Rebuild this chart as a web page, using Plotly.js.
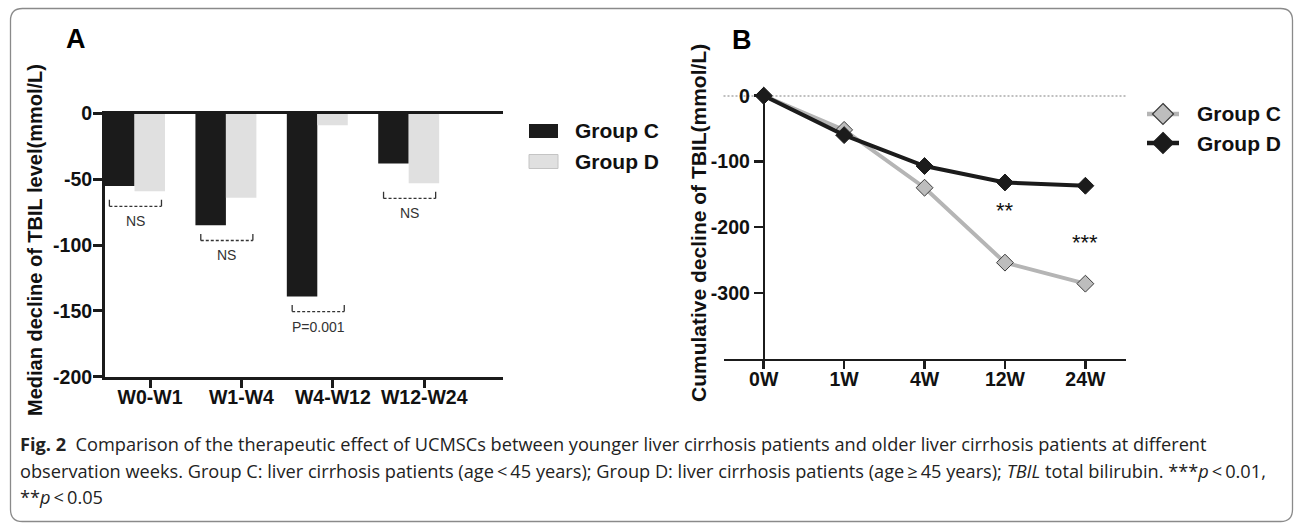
<!DOCTYPE html>
<html>
<head>
<meta charset="utf-8">
<script src="https://cdn.plot.ly/plotly-3.0.1.min.js"></script>
<style>
  html, body { margin: 0; padding: 0; background: #fff; }
  #chart { width: 1295px; height: 525px; }
</style>
</head>
<body>
<div id="chart"></div>
<script>
// ---------------- DATA ----------------
// Panel A: median decline of TBIL per interval
var intervals = ["W0-W1", "W1-W4", "W4-W12", "W12-W24"];
var medianC = [-55, -85, -139, -38];
var medianD = [-59, -64, -9, -53];
var sigLabelsA = ["NS", "NS", "P=0.001", "NS"];

// Panel B: cumulative decline of TBIL
var weeks = ["0W", "1W", "4W", "12W", "24W"];
var cumC = [0, -52, -140, -254, -286];
var cumD = [0, -60, -107, -132, -137];

var seriesNames = ["Group C", "Group D"];
var yTicksA = [0, -50, -100, -150, -200];
var yTicksB = [0, -100, -200, -300];

// ---------------- LAYOUT HELPERS ----------------
var W = 1295, H = 525;
function px(x) { return x / W; }
function py(y) { return 1 - y / H; }

var FONT = "Liberation Sans, Arial, sans-serif";
var CAP = "Open Sans, Noto Sans, sans-serif";
var DARK = "#1b1b1b";
var LIGHT = "#e0e0e0";
var GRAYLINE = "#b5b5b5";
var GRAYMARK = "#bdbdbd";

var idxA = intervals.map(function (_, i) { return i; });

var traces = [
  { type: "bar", name: seriesNames[0], x: idxA, y: medianC, xaxis: "x", yaxis: "y",
    marker: { color: DARK, line: { width: 0 } }, showlegend: false, hoverinfo: "x+y" },
  { type: "bar", name: seriesNames[1], x: idxA, y: medianD, xaxis: "x", yaxis: "y",
    marker: { color: LIGHT, line: { width: 0 } }, showlegend: false, hoverinfo: "x+y" },
  { type: "scatter", mode: "lines+markers", name: seriesNames[0], x: weeks, y: cumC,
    xaxis: "x2", yaxis: "y2", cliponaxis: false, showlegend: false,
    line: { color: GRAYLINE, width: 4 },
    marker: { symbol: "diamond", size: 13, color: GRAYMARK, line: { color: "#3a3a3a", width: 1 } } },
  { type: "scatter", mode: "lines+markers", name: seriesNames[1], x: weeks, y: cumD,
    xaxis: "x2", yaxis: "y2", cliponaxis: false, showlegend: false,
    line: { color: DARK, width: 4 },
    marker: { symbol: "diamond", size: 13, color: DARK, line: { color: DARK, width: 1 } } }
];

var shapes = [];
var annotations = [];

// Outer rounded border
(function () {
  var x0 = 10.5, y0 = 8.5, x1 = 1292.5, y1 = 521.5, r = 12;
  function P(x, y) { return px(x) + "," + py(y); }
  var path = "M" + P(x0 + r, y0) + " L" + P(x1 - r, y0) + " Q" + P(x1, y0) + " " + P(x1, y0 + r) +
    " L" + P(x1, y1 - r) + " Q" + P(x1, y1) + " " + P(x1 - r, y1) +
    " L" + P(x0 + r, y1) + " Q" + P(x0, y1) + " " + P(x0, y1 - r) +
    " L" + P(x0, y0 + r) + " Q" + P(x0, y0) + " " + P(x0 + r, y0) + " Z";
  shapes.push({ type: "path", xref: "paper", yref: "paper", path: path,
    line: { color: "#8a8a8a", width: 1.3 }, fillcolor: "rgba(0,0,0,0)", layer: "below" });
})();

// Significance brackets in panel A (derived from data)
intervals.forEach(function (_, i) {
  var lo = Math.min(medianC[i], medianD[i]);
  var yt = lo - 6.5, yb = lo - 11.5;
  var xa = i - 0.275, xb = i + 0.295;
  shapes.push({ type: "line", xref: "x", yref: "y", x0: xa, x1: xb, y0: yb, y1: yb,
    line: { color: "#333", width: 1.3, dash: "3px,2px" } });
  shapes.push({ type: "line", xref: "x", yref: "y", x0: xa, x1: xa, y0: yb, y1: yt,
    line: { color: "#333", width: 1.3 } });
  shapes.push({ type: "line", xref: "x", yref: "y", x0: xb, x1: xb, y0: yb, y1: yt,
    line: { color: "#333", width: 1.3 } });
  annotations.push({ xref: "x", yref: "y", x: (xa + xb) / 2, y: yb, yanchor: "top", yshift: -5,
    showarrow: false, text: sigLabelsA[i], font: { family: FONT, size: 14, color: "#333" } });
});

// Dotted zero line in panel B
shapes.push({ type: "line", xref: "x2 domain", yref: "y2", x0: 0, x1: 1, y0: 0, y1: 0,
  line: { color: "#000", width: 1.2, dash: "2px,2px" }, layer: "below" });

// Custom legend for panel A
shapes.push({ type: "rect", xref: "paper", yref: "paper",
  x0: px(529), x1: px(558), y0: py(124), y1: py(138), fillcolor: DARK, line: { width: 0 } });
shapes.push({ type: "rect", xref: "paper", yref: "paper",
  x0: px(529), x1: px(558), y0: py(154.5), y1: py(168.5), fillcolor: LIGHT, line: { color: "#c4c4c4", width: 1 } });
annotations.push({ xref: "paper", yref: "paper", x: px(573), y: py(131), xanchor: "left", yanchor: "middle",
  showarrow: false, text: seriesNames[0], font: { family: FONT, size: 21, weight: "bold", color: "#111" } });
annotations.push({ xref: "paper", yref: "paper", x: px(573), y: py(161.5), xanchor: "left", yanchor: "middle",
  showarrow: false, text: seriesNames[1], font: { family: FONT, size: 21, weight: "bold", color: "#111" } });

// Custom legend for panel B (line + diamond symbols)
function diamondPath(cx, cy, r) {
  return "M" + px(cx) + "," + py(cy - r) + " L" + px(cx + r) + "," + py(cy) +
    " L" + px(cx) + "," + py(cy + r) + " L" + px(cx - r) + "," + py(cy) + " Z";
}
[[114, GRAYLINE, GRAYMARK, "#3a3a3a"], [143, DARK, DARK, DARK]].forEach(function (it, k) {
  var yy = it[0];
  shapes.push({ type: "line", xref: "paper", yref: "paper", x0: px(1147), x1: px(1179), y0: py(yy), y1: py(yy),
    line: { color: it[1], width: 4.5 } });
  shapes.push({ type: "path", xref: "paper", yref: "paper", path: diamondPath(1163, yy, 10.5),
    fillcolor: it[2], line: { color: it[3], width: 1.2 } });
  annotations.push({ xref: "paper", yref: "paper", x: px(1195), y: py(yy), xanchor: "left", yanchor: "middle",
    showarrow: false, text: seriesNames[k], font: { family: FONT, size: 21, weight: "bold", color: "#111" } });
});

// Panel letters
annotations.push({ xref: "paper", yref: "paper", x: px(76), y: py(39), xanchor: "center", yanchor: "middle",
  showarrow: false, text: "A", font: { family: FONT, size: 27, weight: "bold", color: "#000" } });
annotations.push({ xref: "paper", yref: "paper", x: px(742), y: py(40), xanchor: "center", yanchor: "middle",
  showarrow: false, text: "B", font: { family: FONT, size: 27, weight: "bold", color: "#000" } });

// Y-axis titles
annotations.push({ xref: "paper", yref: "paper", x: px(35), y: py(240), xanchor: "center", yanchor: "middle",
  textangle: -90, showarrow: false, text: "Median decline of TBIL level(mmol/L)",
  font: { family: FONT, size: 20, weight: "bold", color: "#111" } });
annotations.push({ xref: "paper", yref: "paper", x: px(698), y: py(223), xanchor: "center", yanchor: "middle",
  textangle: -90, showarrow: false, text: "Cumulative decline of TBIL(mmol/L)",
  font: { family: FONT, size: 21, weight: "bold", color: "#111" } });

// Significance stars panel B
annotations.push({ xref: "x2", yref: "y2", x: "12W", y: -175, showarrow: false, text: "**",
  font: { family: FONT, size: 22, color: "#111" } });
annotations.push({ xref: "x2", yref: "y2", x: "24W", y: -224, showarrow: false, text: "***",
  font: { family: FONT, size: 22, color: "#111" } });

// Caption
var capLines = [
  "<b>Fig. 2</b>  Comparison of the therapeutic effect of UCMSCs between younger liver cirrhosis patients and older liver cirrhosis patients at different",
  "observation weeks. Group C: liver cirrhosis patients (age\u2009<\u200945 years); Group D: liver cirrhosis patients (age\u2009\u2265\u200945 years); <i>TBIL</i> total bilirubin. ***<i>p</i>\u2009<\u20090.01,",
  "**<i>p</i>\u2009<\u20090.05"
];
var capY = [444, 471, 497];
capLines.forEach(function (t, i) {
  annotations.push({ xref: "paper", yref: "paper", x: px(18), y: py(capY[i]), xanchor: "left", yanchor: "middle",
    showarrow: false, text: t, font: { family: CAP, size: 18.2, color: "#222" } });
});

function axisBase() {
  return {
    showgrid: false, zeroline: false, showline: true, linecolor: DARK,
    ticks: "outside", tickcolor: DARK, fixedrange: true,
    tickfont: { family: FONT, size: 19.5, weight: "bold", color: "#111" }
  };
}

var layout = {
  width: W, height: H,
  margin: { l: 0, r: 0, t: 0, b: 0 },
  paper_bgcolor: "#fff", plot_bgcolor: "rgba(0,0,0,0)",
  barmode: "group", bargap: 0.333, bargroupgap: 0,
  showlegend: false,
  xaxis: Object.assign(axisBase(), {
    domain: [px(105), px(503)], range: [-0.323, 4.032], anchor: "y",
    tickvals: idxA.map(function (i) { return i + 0.17; }), ticktext: intervals,
    ticklen: 8, tickwidth: 3, linewidth: 3, mirror: true, ticklabelstandoff: -7
  }),
  yaxis: Object.assign(axisBase(), {
    domain: [py(376.7), py(113.5)], range: [-200, 0], anchor: "x",
    tickvals: yTicksA, ticktext: yTicksA.map(String),
    ticklen: 9, tickwidth: 3, linewidth: 3, ticklabelstandoff: -3
  }),
  xaxis2: Object.assign(axisBase(), {
    domain: [px(723.5), px(1125.6)], range: [-0.5, 4.5], anchor: "y2", type: "category",
    ticklen: 8, tickwidth: 2.5, linewidth: 2.5, ticklabelstandoff: -7
  }),
  yaxis2: Object.assign(axisBase(), {
    domain: [py(358.6), py(95.7)], range: [-400, 0], anchor: "free", position: px(763.8),
    tickvals: yTicksB, ticktext: yTicksB.map(String),
    ticklen: 9, tickwidth: 2.5, linewidth: 2.5
  }),
  shapes: shapes,
  annotations: annotations
};

Plotly.newPlot("chart", traces, layout, { displayModeBar: false, staticPlot: true });
</script>
</body>
</html>
